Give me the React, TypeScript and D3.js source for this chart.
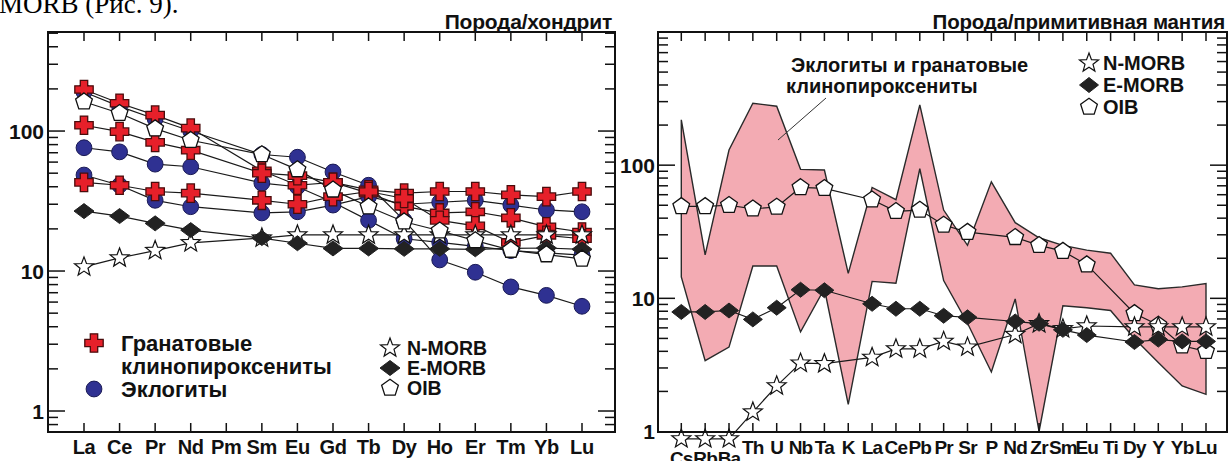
import { useEffect, useRef } from 'react';
import * as d3 from 'd3';

// ---- left panel: REE / chondrite ----
const reeElements = ['La', 'Ce', 'Pr', 'Nd', 'Pm', 'Sm', 'Eu', 'Gd', 'Tb', 'Dy', 'Ho', 'Er', 'Tm', 'Yb', 'Lu'];

const reeNmorb = [10.7, 12.4, 14.0, 15.9, null, 17.2, 18.1, 18.1, 18.1, 18.1, 18.1, 18.1, 18.1, 18.1, 18.1];
const reeEmorb = [26.8, 24.7, 21.9, 19.6, null, 17.2, 15.8, 14.5, 14.5, 14.4, 14.4, 14.3, 14.5, 14.6, 14.3];
const reeOib = [162, 134, 104, 86, null, 68, 53, 38, 28.8, 22.5, 19.4, 16.5, 14.1, 13.1, 12.2];

// garnet clinopyroxenites (crosses)
const cpx1 = [198, 158, 130, 105, null, 52, 41, 43, 38, 36, 37, 37, 35, 34, 37];
const cpx2 = [110, 99, 83, 73, null, 50, 48, 43, 36, 29, 26, 26.5, 24, 20.7, 19];
const cpx3 = [43, 41, 37, 36, null, 32, 30, 34, 37, 33, 23, 21, 16, 18, 17];

// eclogites (circles)
const ecl1 = [190, 150, 122, 100, null, 68, 65, 51, 41, 23, 12, 9.8, 7.7, 6.7, 5.6];
const ecl2 = [76, 71, 58, 55.6, null, 42.5, 40, 31, 23, 17, 16, 15, 14, 13.5, 13];
const ecl3 = [48.5, 41, 32, 28.8, null, 26, 26.5, 29.6, 34, 30, 31, 32, 29.6, 27.3, 26.5];

const reeTicks = ['1', '10', '100'];

// ---- right panel: spider / primitive mantle ----
const spiderElements = ['Cs', 'Rb', 'Ba', 'Th', 'U', 'Nb', 'Ta', 'K', 'La', 'Ce', 'Pb', 'Pr', 'Sr', 'P', 'Nd', 'Zr', 'Sm', 'Eu', 'Ti', 'Dy', 'Y', 'Yb', 'Lu'];

const pmNmorb = [0.88, 0.88, 0.88, 1.4, 2.2, 3.26, 3.23, null, 3.6, 4.17, 4.17, 4.75, 4.3, null, 5.35, 6.45, 5.9, 6.2, null, 6.1, 6.1, 6.1, 6.1];
const pmEmorb = [7.9, 7.9, 8.1, 6.95, 8.5, 11.6, 11.5, null, 9.1, 8.35, 8.35, 7.4, 7.2, null, 6.7, 6.45, 5.8, 5.3, null, 4.7, 4.9, 4.75, 4.75];
const pmOib = [49, 49, 50, 47, 48.5, 68, 67, null, 55, 45, 46, 35.5, 31.4, null, 28.7, 25, 22.6, 17.9, null, 7.7, 6.3, 4.4, 4.0];

// field of eclogites and garnet clinopyroxenites
const fieldUpper = [219, 21.2, 130, 292, 277, 93, 92, 15.4, 68, 55, 284, 46, 25, 75, 37, 28.5, 25, 23, 21.8, 12.6, 11.8, 12.2, 12.9];
const fieldLower = [14.5, 3.4, 4.3, 17.5, 17.5, 5.6, 11.8, 1.6, 13.4, 13.0, 94, 13.6, 6.5, 2.8, 9.9, 1.0, 8.8, 8.5, 8.1, 5.0, 3.3, 2.2, 1.9];

const spiderTicks = ['1', '10', '100'];

const FONT = '"Liberation Sans", Arial, sans-serif';

// marker shapes
const crossPath = (() => {
  const a = 3.7, l = 9.2;
  return `M${-a},${-l}H${a}V${-a}H${l}V${a}H${a}V${l}H${-a}V${a}H${-l}V${-a}H${-a}Z`;
})();
const pentagonPath = (r: number) =>
  d3.range(5).map((i) => {
    const t = -Math.PI / 2 + (i * 2 * Math.PI) / 5;
    return `${i ? 'L' : 'M'}${r * Math.cos(t)},${r * Math.sin(t)}`;
  }).join('') + 'Z';
const starPath = (R: number, r: number) =>
  d3.range(10).map((i) => {
    const t = -Math.PI / 2 + (i * Math.PI) / 5;
    const rr = i % 2 ? r : R;
    return `${i ? 'L' : 'M'}${rr * Math.cos(t)},${rr * Math.sin(t)}`;
  }).join('') + 'Z';
const diamondPath = (w: number, h: number) => `M0,${-h}L${w},0L0,${h}L${-w},0Z`;

type Marker = { d?: string; circle?: number; fill: string; stroke: string; sw: number };

const mCross: Marker = { d: crossPath, fill: '#e6202a', stroke: '#4a0c0c', sw: 1.3 };
const mCircle: Marker = { circle: 7.9, fill: '#2f3192', stroke: '#1a1a55', sw: 1 };
const mPentL: Marker = { d: pentagonPath(8.8), fill: '#fff', stroke: '#111', sw: 1.3 };
const mStarL: Marker = { d: starPath(10, 4.2), fill: '#fff', stroke: '#111', sw: 1.2 };
const mDiamL: Marker = { d: diamondPath(10, 7.5), fill: '#222', stroke: '#222', sw: 1 };
const mPentR: Marker = { d: pentagonPath(8.8), fill: '#fff', stroke: '#111', sw: 1.3 };
const mStarR: Marker = { d: starPath(10, 4.2), fill: '#fff', stroke: '#111', sw: 1.2 };
const mDiamR: Marker = { d: diamondPath(9.5, 7.5), fill: '#222', stroke: '#222', sw: 1 };

export default function App() {
  const svgRef = useRef<SVGSVGElement>(null);

  useEffect(() => {
    if (!svgRef.current) return;
    const svg = d3.select(svgRef.current);
    svg.selectAll('*').remove();

    const drawMarker = (g: any, m: Marker, x: number, y: number) => {
      if (m.circle) {
        g.append('circle').attr('cx', x).attr('cy', y).attr('r', m.circle)
          .attr('fill', m.fill).attr('stroke', m.stroke).attr('stroke-width', m.sw);
      } else {
        g.append('path').attr('d', m.d).attr('transform', `translate(${x},${y})`)
          .attr('fill', m.fill).attr('stroke', m.stroke).attr('stroke-width', m.sw)
          .attr('stroke-linejoin', 'miter');
      }
    };

    const drawSeries = (
      g: any,
      cats: string[],
      vals: (number | null)[],
      x: d3.ScalePoint<string>,
      y: d3.ScaleLogarithmic<number, number>,
    ) => {
      const pts = cats.map((c, i) => ({ c, v: vals[i] })).filter((p) => p.v != null) as { c: string; v: number }[];
      const line = d3.line<{ c: string; v: number }>().x((p) => x(p.c)!).y((p) => y(p.v));
      g.append('path').attr('d', line(pts)).attr('fill', 'none').attr('stroke', '#1a1a1a').attr('stroke-width', 1.2);
      return pts;
    };

    const frame = (
      x0: number, x1: number, y0: number, y1: number,
      cats: string[], x: d3.ScalePoint<string>, y: d3.ScaleLogarithmic<number, number>,
    ) => {
      const g = svg.append('g');
      const [d0, d1] = y.domain();
      const tickVals: number[] = [];
      for (let e = Math.floor(Math.log10(d0)); e <= Math.ceil(Math.log10(d1)); e++) {
        for (let k = 1; k <= 9; k++) {
          const v = k * Math.pow(10, e);
          if (v >= d0 * 1.001 && v <= d1 * 0.999) tickVals.push(v);
        }
      }
      tickVals.forEach((v) => {
        const major = Math.abs(Math.log10(v) - Math.round(Math.log10(v))) < 1e-6;
        const len = major ? 17 : 10;
        g.append('line').attr('x1', x0).attr('x2', x0 + len).attr('y1', y(v)).attr('y2', y(v))
          .attr('stroke', '#111').attr('stroke-width', 1.5);
        g.append('line').attr('x1', x1).attr('x2', x1 - len).attr('y1', y(v)).attr('y2', y(v))
          .attr('stroke', '#111').attr('stroke-width', 1.5);
      });
      cats.forEach((c) => {
        g.append('line').attr('x1', x(c)).attr('x2', x(c)).attr('y1', y1).attr('y2', y1 - 9)
          .attr('stroke', '#111').attr('stroke-width', 1.5);
        g.append('line').attr('x1', x(c)).attr('x2', x(c)).attr('y1', y0).attr('y2', y0 + 9)
          .attr('stroke', '#111').attr('stroke-width', 1.5);
      });
      g.append('rect').attr('x', x0).attr('y', y0).attr('width', x1 - x0).attr('height', y1 - y0)
        .attr('fill', 'none').attr('stroke', '#111').attr('stroke-width', 2);
    };

    const text = (s: string, x: number, y: number, size: number, anchor = 'start', spacing = 0) =>
      svg.append('text').attr('x', x).attr('y', y).attr('font-family', FONT).attr('font-size', size)
        .attr('font-weight', 'bold').attr('text-anchor', anchor).attr('dominant-baseline', 'central')
        .attr('letter-spacing', spacing).attr('fill', '#111').text(s);

    // page text cut at the top
    svg.append('text').attr('x', -1).attr('y', 13).attr('font-family', '"Liberation Serif", "Times New Roman", serif')
      .attr('font-size', 27).attr('fill', '#000').text('MORB (Рис. 9).');

    // ================= left panel =================
    const xL = d3.scalePoint<string>().domain(reeElements).range([84, 582]);
    const yL = d3.scaleLog().domain([0.708, 510]).range([432, 32]);

    const gL = svg.append('g');
    const lines = [ecl1, ecl2, ecl3, cpx1, cpx2, cpx3, reeNmorb, reeEmorb, reeOib];
    const ptsL = lines.map((v) => drawSeries(gL, reeElements, v, xL, yL));
    const markL = [mCircle, mCircle, mCircle, mCross, mCross, mCross, mStarL, mDiamL, mPentL];
    ptsL.forEach((pts, i) => pts.forEach((p) => drawMarker(gL, markL[i], xL(p.c)!, yL(p.v))));

    frame(48, 615, 32, 432, reeElements, xL, yL);

    reeTicks.forEach((t) => text(t, 44, yL(+t), 21, 'end'));
    reeElements.forEach((c) => text(c, xL(c)!, 447, 20, 'middle', -0.3));
    text('Порода/хондрит', 612, 21, 21, 'end', -0.2);

    // legend
    drawMarker(svg, mCross, 94, 343);
    text('Гранатовые', 121, 343, 22);
    text('клинопироксениты', 121, 366, 22);
    drawMarker(svg, mCircle, 94, 389);
    text('Эклогиты', 121, 389, 22);
    drawMarker(svg, mStarL, 390, 348);
    text('N-MORB', 407, 348, 19.5);
    drawMarker(svg, mDiamL, 390, 368);
    text('E-MORB', 407, 368, 19.5);
    drawMarker(svg, mPentL, 390, 388);
    text('OIB', 407, 388, 19.5);

    // ================= right panel =================
    const xR = d3.scalePoint<string>().domain(spiderElements).range([681.3, 1206]);
    const yR = d3.scaleLog().domain([1, 1000]).range([431.5, 32]);

    const gR = svg.append('g');
    const area = d3.area<number>()
      .x((_, i) => xR(spiderElements[i])!)
      .y0((_, i) => yR(fieldLower[i]))
      .y1((d) => yR(d));
    gR.append('path').attr('d', area(fieldUpper)).attr('fill', '#f3abb3').attr('stroke', 'none');
    const edge = d3.line<number>().x((_, i) => xR(spiderElements[i])!).y((d) => yR(d));
    const outline = edge(fieldUpper)! + 'L' + [...fieldLower.map((v, i) => [xR(spiderElements[i])!, yR(v)])]
      .reverse().map((p) => p.join(',')).join('L') + 'Z';
    gR.append('path').attr('d', outline).attr('fill', 'none').attr('stroke', '#2a2a2a').attr('stroke-width', 1.4)
      .attr('stroke-linejoin', 'miter');

    // leader line for the field label
    gR.append('line').attr('x1', 826).attr('y1', 98).attr('x2', 778).attr('y2', 140)
      .attr('stroke', '#333').attr('stroke-width', 1);

    const ptsR = [pmOib, pmNmorb, pmEmorb].map((v) => drawSeries(gR, spiderElements, v, xR, yR));
    const markR = [mPentR, mStarR, mDiamR];
    ptsR.forEach((pts, i) => pts.forEach((p) => drawMarker(gR, markR[i], xR(p.c)!, yR(p.v))));

    frame(658, 1227, 32, 432, spiderElements, xR, yR);

    spiderTicks.forEach((t) => text(t, 655, yR(+t), 21, 'end'));
    spiderElements.forEach((c, i) => text(c, xR(c)!, i < 3 ? 458 : 447, 19, 'middle', -0.8));
    text('Порода/примитивная мантия', 1225, 21, 20.5, 'end', -0.2);

    text('Эклогиты и гранатовые', 791, 65, 20);
    text('клинопироксениты', 786, 86, 20);

    drawMarker(svg, mStarR, 1089, 63);
    text('N-MORB', 1103, 63, 20);
    drawMarker(svg, mDiamR, 1089, 85);
    text('E-MORB', 1103, 85, 20);
    drawMarker(svg, mPentR, 1089, 107);
    text('OIB', 1103, 107, 20);
  }, []);

  return (
    <svg
      ref={svgRef}
      width={1231}
      height={461}
      style={{ position: 'absolute', left: 0, top: 0, background: '#fff' }}
    />
  );
}
